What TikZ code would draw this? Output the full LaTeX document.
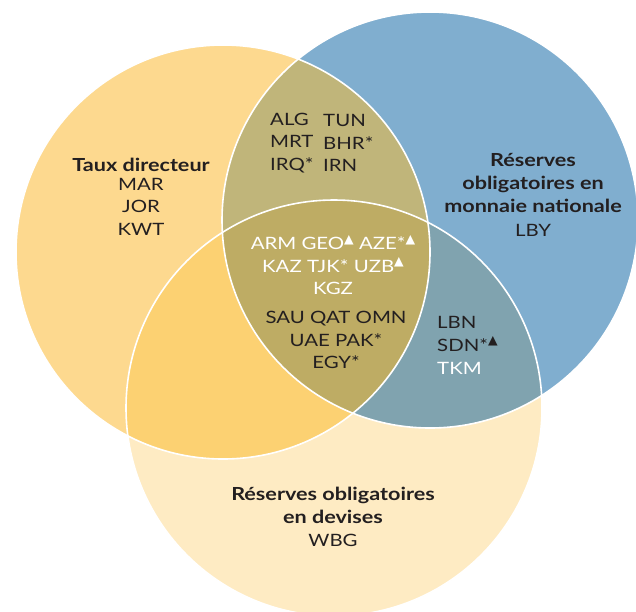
\documentclass[tikz,border=0pt]{standalone}
\usepackage{fontspec}
\setmainfont{Lato}[FakeStretch=1.2]
\newfontfamily\symfont{DejaVu Sans}
\definecolor{cA}{HTML}{FDD98F}
\definecolor{cB}{HTML}{80AECF}
\definecolor{cC}{HTML}{FEEBC3}
\definecolor{cAB}{HTML}{C0B57A}
\definecolor{cAC}{HTML}{FCD172}
\definecolor{cBC}{HTML}{80A3AF}
\definecolor{cABC}{HTML}{BEAC64}
\definecolor{ink}{HTML}{231F20}
\newcommand\tri{\raisebox{0.38em}{\symfont\fontsize{12.5}{12.5}\selectfont ▲}}
\tikzset{
  txt/.style={inner sep=0pt, text=ink, align=center, font=\fontsize{17}{22.5}\selectfont},
  wtxt/.style={txt, text=white},
  head/.style={txt, font=\fontsize{18}{23}\selectfont\bfseries},
  edge/.style={draw=white, line width=1.6pt}
}
\begin{document}
\begin{tikzpicture}[x=1pt,y=-1pt]
\useasboundingbox (0,0) rectangle (636,611);
\clip (0,0) rectangle (636,611);
\def\circA{(223,252) circle (207pt)}
\def\circB{(430,220) circle (208pt)}
\def\circC{(334,408) circle (208pt)}
% single regions
\fill[cC] \circC;
\fill[cA] \circA;
\fill[cB] \circB;
% pairwise
\begin{scope}\clip \circA; \fill[cAB] \circB; \end{scope}
\begin{scope}\clip \circA; \fill[cAC] \circC; \end{scope}
\begin{scope}\clip \circB; \fill[cBC] \circC; \end{scope}
\begin{scope}\clip \circA; \clip \circB; \fill[cABC] \circC; \end{scope}
% outlines
\draw[edge] \circA;
\draw[edge] \circB;
\draw[edge] \circC;
% labels
\node[head] (hA) at (141,165) {Taux directeur};
\node[txt, anchor=north] (lA) at (141,178) {MAR\\JOR\\KWT};
\node[head] (hB) at (533,183) {Réserves\\obligatoires en\\monnaie nationale};
\node[txt] (lB) at (533,230) {LBY};
\node[head] (hC) at (333,505) {Réserves obligatoires\\en devises};
\node[txt] (lC) at (333,540) {WBG};
\node[txt, anchor=west, align=left] (ab1) at (270,143) {ALG\\MRT\\IRQ*};
\node[txt, anchor=west, align=left] (ab2) at (323,143) {TUN\\BHR*\\IRN};
\node[wtxt] (abc1) at (333,265) {ARM GEO\tri{} AZE*\tri\\KAZ TJK* UZB\tri\\KGZ};
\node[txt] (abc2) at (336,340) {SAU QAT OMN\\UAE PAK*\\EGY*};
\node[txt, anchor=west, align=left] (bc1) at (437,334) {LBN\\SDN*\tri};
\node[wtxt, anchor=west] (bc2) at (437,368) {TKM};
\end{tikzpicture}
\end{document}
